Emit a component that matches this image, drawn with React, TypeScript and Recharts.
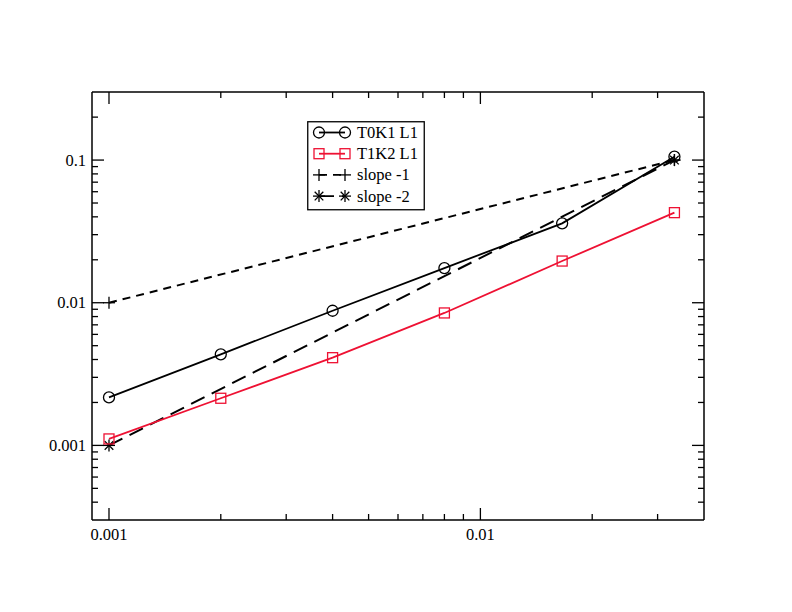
import React from 'react'
import { LineChart, Line, XAxis, YAxis } from 'recharts'

// data (log-log)
const hValues = [0.001, 0.002, 0.004, 0.008, 0.0166, 0.0333]
const t0k1 = [0.00217, 0.00435, 0.00879, 0.0175, 0.036, 0.1056]
const t1k2 = [0.00111, 0.00214, 0.00412, 0.00848, 0.0196, 0.0428]
const slope1X = [0.001, 0.0333]
const slope1Y = [0.01, 0.1]
const slope2X = [0.001, 0.0333]
const slope2Y = [0.001, 0.1]

const xMajor = [0.001, 0.01]
const xMinor = [0.002, 0.003, 0.004, 0.005, 0.006, 0.007, 0.008, 0.009, 0.02, 0.03]
const yMajor = [0.001, 0.01, 0.1]
const yMinor = [
  0.0004, 0.0005, 0.0006, 0.0007, 0.0008, 0.0009,
  0.002, 0.003, 0.004, 0.005, 0.006, 0.007, 0.008, 0.009,
  0.02, 0.03, 0.04, 0.05, 0.06, 0.07, 0.08, 0.09, 0.2,
]

const RED = '#ee1133'
const FONT = 'Liberation Serif, DejaVu Serif, serif'
const textStyle = { fontFamily: FONT, fontSize: 16.5 }
const DASH1 = '8 6'
const DASH2 = '15 8'

const zip = (xs: number[], ys: number[]) => xs.map((x, i) => ({ x, y: ys[i] }))
const t0k1Data = zip(hValues, t0k1)
const t1k2Data = zip(hValues, t1k2)
const slope1Data = zip(slope1X, slope1Y)
const slope2Data = zip(slope2X, slope2Y)

const xTicks = [...xMajor, ...xMinor].sort((a, b) => a - b)
const yTicks = [...yMajor, ...yMinor].sort((a, b) => a - b)

const CircleMark = ({ cx, cy, color }: any) => (
  <circle cx={cx} cy={cy} r={5.5} fill="none" stroke={color} strokeWidth={1.3} />
)
const SquareMark = ({ cx, cy, color }: any) => (
  <rect x={cx - 5} y={cy - 5} width={10} height={10} fill="none" stroke={color} strokeWidth={1.3} />
)
const PlusMark = ({ cx, cy, color }: any) => (
  <g stroke={color} strokeWidth={1.3}>
    <line x1={cx - 6} y1={cy} x2={cx + 6} y2={cy} />
    <line x1={cx} y1={cy - 6} x2={cx} y2={cy + 6} />
  </g>
)
const StarMark = ({ cx, cy, color }: any) => (
  <g stroke={color} strokeWidth={1.3}>
    <line x1={cx - 6} y1={cy} x2={cx + 6} y2={cy} />
    <line x1={cx} y1={cy - 6} x2={cx} y2={cy + 6} />
    <line x1={cx - 4.3} y1={cy - 4.3} x2={cx + 4.3} y2={cy + 4.3} />
    <line x1={cx - 4.3} y1={cy + 4.3} x2={cx + 4.3} y2={cy - 4.3} />
  </g>
)

const makeDot = (Mark: any, color: string) => (props: any) => {
  const { cx, cy, index } = props
  if (cx == null || cy == null) return <g key={index} />
  return <Mark key={index} cx={cx} cy={cy} color={color} />
}

const isMajor = (v: number, majors: number[]) => majors.some((m) => Math.abs(m - v) < 1e-12)

const BottomTick = ({ x, y, payload }: any) => {
  const major = isMajor(payload.value, xMajor)
  return (
    <g>
      <line x1={x} y1={y} x2={x} y2={y - (major ? 12 : 6)} stroke="#000" strokeWidth={1.3} />
      {major && (
        <text x={x} y={y + 19.5} textAnchor="middle" style={textStyle} fill="#000">
          {String(payload.value)}
        </text>
      )}
    </g>
  )
}
const TopTick = ({ x, y, payload }: any) => {
  const major = isMajor(payload.value, xMajor)
  return <line x1={x} y1={y} x2={x} y2={y + (major ? 12 : 6)} stroke="#000" strokeWidth={1.3} />
}
const LeftTick = ({ x, y, payload }: any) => {
  const major = isMajor(payload.value, yMajor)
  return (
    <g>
      <line x1={x} y1={y} x2={x + (major ? 12 : 6)} y2={y} stroke="#000" strokeWidth={1.3} />
      {major && (
        <text x={x - 6} y={y + 5.5} textAnchor="end" style={textStyle} fill="#000">
          {String(payload.value)}
        </text>
      )}
    </g>
  )
}
const RightTick = ({ x, y, payload }: any) => {
  const major = isMajor(payload.value, yMajor)
  return <line x1={x} y1={y} x2={x - (major ? 12 : 6)} y2={y} stroke="#000" strokeWidth={1.3} />
}

const legendItems = [
  { label: 'T0K1 L1', color: '#000', Mark: CircleMark, dash: undefined },
  { label: 'T1K2 L1', color: RED, Mark: SquareMark, dash: undefined },
  { label: 'slope -1', color: '#000', Mark: PlusMark, dash: DASH1 },
  { label: 'slope -2', color: '#000', Mark: StarMark, dash: DASH2 },
]

const LegendBox = () => (
  <svg width={118} height={90} style={{ display: 'block' }}>
    <rect x={0.75} y={0.75} width={116.5} height={88} fill="#fff" stroke="#000" strokeWidth={1.3} />
    {legendItems.map((it, i) => {
      const cy = 11.5 + 21.2 * i
      const Mark = it.Mark
      return (
        <g key={it.label}>
          <line x1={12} y1={cy} x2={38} y2={cy} stroke={it.color} strokeWidth={1.8} strokeDasharray={it.dash} />
          <Mark cx={12} cy={cy} color={it.color} />
          <Mark cx={38} cy={cy} color={it.color} />
          <text x={50} y={cy + 5.5} style={textStyle} fill="#000">
            {it.label}
          </text>
        </g>
      )
    })}
  </svg>
)

const axisCommon = {
  type: 'number' as const,
  scale: 'log' as const,
  allowDataOverflow: true,
  interval: 0 as const,
  tickSize: 0,
  tickMargin: 0,
  tickLine: false,
  stroke: '#000',
  strokeWidth: 1.5,
}

export default function App() {
  return (
    <div style={{ position: 'relative', width: 784, height: 604, background: '#fff' }}>
      <LineChart width={784} height={604} margin={{ top: 74, right: 78, bottom: 52, left: 24 }}>
        <XAxis xAxisId="b" dataKey="x" domain={[0.0009, 0.04]} ticks={xTicks} tick={<BottomTick />} height={40} {...axisCommon} />
        <XAxis xAxisId="t" orientation="top" dataKey="x" domain={[0.0009, 0.04]} ticks={xTicks} tick={<TopTick />} height={10} {...axisCommon} />
        <YAxis yAxisId="l" dataKey="y" domain={[0.0003, 0.3]} ticks={yTicks} tick={<LeftTick />} width={60} {...axisCommon} />
        <YAxis yAxisId="r" orientation="right" dataKey="y" domain={[0.0003, 0.3]} ticks={yTicks} tick={<RightTick />} width={10} {...axisCommon} />
        <Line
          xAxisId="b"
          yAxisId="l"
          data={slope1Data}
          dataKey="y"
          stroke="#000"
          strokeWidth={2}
          strokeDasharray={DASH1}
          dot={makeDot(PlusMark, '#000')}
          isAnimationActive={false}
        />
        <Line
          xAxisId="b"
          yAxisId="l"
          data={slope2Data}
          dataKey="y"
          stroke="#000"
          strokeWidth={2}
          strokeDasharray={DASH2}
          dot={makeDot(StarMark, '#000')}
          isAnimationActive={false}
        />
        <Line
          xAxisId="b"
          yAxisId="l"
          data={t1k2Data}
          dataKey="y"
          stroke={RED}
          strokeWidth={1.8}
          dot={makeDot(SquareMark, RED)}
          isAnimationActive={false}
        />
        <Line
          xAxisId="b"
          yAxisId="l"
          data={t0k1Data}
          dataKey="y"
          stroke="#000"
          strokeWidth={1.8}
          dot={makeDot(CircleMark, '#000')}
          isAnimationActive={false}
        />
      </LineChart>
      <div style={{ position: 'absolute', left: 299, top: 113 }}>
        <LegendBox />
      </div>
    </div>
  )
}
